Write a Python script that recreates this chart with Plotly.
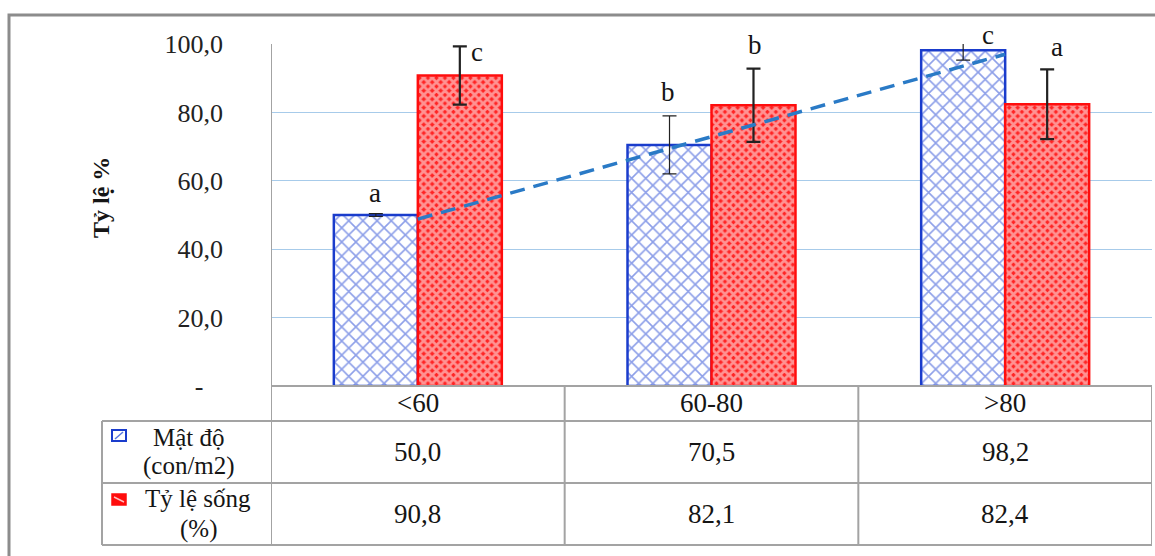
import numpy as np
import plotly.graph_objects as go

# ---- data ----
categories = ["<60", "60-80", ">80"]
density = [50.0, 70.5, 98.2]          # Mật độ (con/m2)
survival = [90.8, 82.1, 82.4]         # Tỷ lệ sống (%)
density_err = [0.4, 8.5, 2.9]
survival_err = [8.5, 10.7, 10.2]
density_letters = ["a", "b", "c"]
survival_letters = ["c", "b", "a"]
y_ticks = [0, 20, 40, 60, 80, 100]
row_labels = [["Mật độ", "(con/m2)"], ["Tỷ lệ sống", "(%)"]]
y_title = "Tỷ lệ %"

# ---- geometry (pixels) ----
W, H = 1155, 556
L, R, TOP, BASE = 271, 1152, 44, 386
FONT = "Liberation Serif"
GRID = "#a7cbea"
TABLE = "#a3a3a3"
BLUE = "#1a3ccc"
RED = "#ff0d0d"
INK = "#151515"


def px_x(px):
    return (px - L) / (R - L)


def px_y(py):
    return (BASE - py) / (BASE - TOP)


def vn(v):
    return f"{v:.1f}".replace(".", ",")


tick_text = ["-\u00a0\u00a0\u00a0" if v == 0 else vn(v) for v in y_ticks]

fig = go.Figure()

fig.add_bar(
    x=categories, y=density, name="".join(row_labels[0]),
    marker=dict(
        color="white",
        line=dict(color=BLUE, width=2.5),
        pattern=dict(shape="x", fgcolor="#1c40d2", bgcolor="white", size=10, solidity=0.3),
    ),
    error_y=dict(type="data", array=density_err, color="#222222", thickness=1.2, width=7),
)
fig.add_bar(
    x=categories, y=survival, name="".join(row_labels[1]),
    marker=dict(
        color=RED,
        line=dict(color=RED, width=2.5),
        pattern=dict(shape="x", fgcolor="#ffffff", bgcolor="#ff2424", size=6, solidity=0.72),
    ),
    error_y=dict(type="data", array=survival_err, color="#222222", thickness=2.2, width=7),
)

# linear trend of density across the three groups
idx = np.arange(len(categories))
slope, intercept = np.polyfit(idx, density, 1)
fig.add_scatter(
    x=[categories[0], categories[-1]],
    y=[intercept + slope * idx[0], intercept + slope * idx[-1]],
    mode="lines",
    line=dict(color="#2a7ac6", width=3.5, dash="15px,9px"),
    hoverinfo="skip",
)

annotations = []
shapes = []

# significance letters above the bars
letter_pos = [
    (0 - 0.146, 193, density_letters[0]),
    (0 + 0.201, 52, survival_letters[0]),
    (1 - 0.148, 92, density_letters[1]),
    (1 + 0.148, 45, survival_letters[1]),
    (2 - 0.059, 35, density_letters[2]),
    (2 + 0.176, 47, survival_letters[2]),
]
for xv, py, t in letter_pos:
    annotations.append(dict(
        x=xv, xref="x", y=px_y(py), yref="paper", text=t, showarrow=False,
        font=dict(family=FONT, size=27, color=INK), xanchor="center", yanchor="middle",
    ))

# y axis title
annotations.append(dict(
    x=px_x(101), xref="paper", y=px_y(198), yref="paper", text=f"<b>{y_title}</b>",
    textangle=-90, showarrow=False, font=dict(family=FONT, size=24, color=INK),
    xanchor="center", yanchor="middle",
))

# data table under the chart
for c in categories:
    annotations.append(dict(x=c, xref="x", y=px_y(403), yref="paper", text=c, showarrow=False,
                            font=dict(family=FONT, size=27, color=INK),
                            xanchor="center", yanchor="middle"))
for row_y, vals in ((452, density), (514, survival)):
    for c, v in zip(categories, vals):
        annotations.append(dict(x=c, xref="x", y=px_y(row_y), yref="paper", text=vn(v),
                                showarrow=False, font=dict(family=FONT, size=27, color=INK),
                                xanchor="center", yanchor="middle"))

for (line1, line2), (cx1, y1, cx2, y2) in zip(
        row_labels, [(189, 437, 189, 466), (198, 498, 198, 529)]):
    for t, cx, cy in ((line1, cx1, y1), (line2, cx2, y2)):
        annotations.append(dict(x=px_x(cx), xref="paper", y=px_y(cy), yref="paper", text=t,
                                showarrow=False, font=dict(family=FONT, size=25, color=INK),
                                xanchor="center", yanchor="middle"))

tline = dict(color=TABLE, width=2)
for py, x0 in ((386, L), (421, 102), (483, 102), (545, 102)):
    shapes.append(dict(type="line", xref="paper", yref="paper", x0=px_x(x0), x1=1.0,
                       y0=px_y(py), y1=px_y(py), line=tline))
shapes.append(dict(type="line", xref="paper", yref="paper", x0=px_x(102), x1=px_x(102),
                   y0=px_y(421), y1=px_y(545), line=tline))
for xb in (-0.5, 0.5, 1.5, 2.5):
    y_top = px_y(TOP) if xb == -0.5 else px_y(386)
    shapes.append(dict(type="line", xref="x", yref="paper", x0=xb, x1=xb,
                       y0=y_top, y1=px_y(545), line=tline))

# legend keys in the table
shapes.append(dict(type="rect", xref="paper", yref="paper", x0=px_x(112), x1=px_x(126),
                   y0=px_y(441), y1=px_y(430), fillcolor="white", line=dict(color=BLUE, width=2)))
shapes.append(dict(type="line", xref="paper", yref="paper", x0=px_x(115), x1=px_x(123),
                   y0=px_y(439), y1=px_y(432), line=dict(color="#5a78e0", width=1.5)))
shapes.append(dict(type="rect", xref="paper", yref="paper", x0=px_x(112), x1=px_x(126),
                   y0=px_y(505), y1=px_y(494), fillcolor=RED, line=dict(color=RED, width=1.5)))
shapes.append(dict(type="line", xref="paper", yref="paper", x0=px_x(114), x1=px_x(124),
                   y0=px_y(497), y1=px_y(502), line=dict(color="#ffc0c0", width=1.5)))

# outer frame
shapes.append(dict(type="rect", xref="paper", yref="paper", x0=px_x(9), x1=px_x(1170),
                   y0=px_y(575), y1=px_y(15), line=dict(color="#8c8c8c", width=3)))

fig.update_layout(
    width=W, height=H,
    margin=dict(l=L, r=W - R, t=TOP, b=H - BASE, pad=0),
    paper_bgcolor="white", plot_bgcolor="white",
    showlegend=False,
    barmode="group", bargap=0.428, bargroupgap=0,
    font=dict(family=FONT, size=24, color="#222222"),
    annotations=annotations,
    shapes=shapes,
)
fig.update_xaxes(range=[-0.5, 2.5], showticklabels=False, showgrid=False, zeroline=False,
                 showline=False, ticks="")
fig.update_yaxes(range=[0, 100], tickvals=y_ticks, ticktext=tick_text,
                 showgrid=True, gridcolor=GRID, gridwidth=1, zeroline=False,
                 showline=False, ticks="", ticklabelstandoff=47,
                 tickfont=dict(family=FONT, size=26, color="#222222"))

fig.write_html("out.html")
